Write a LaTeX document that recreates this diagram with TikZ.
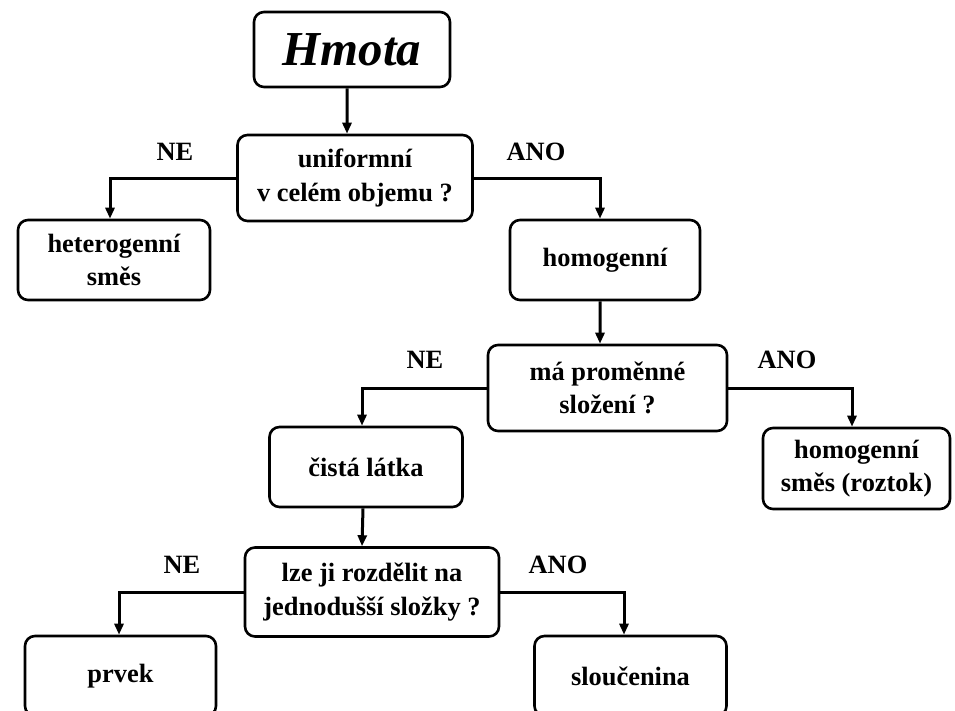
\documentclass[tikz,border=0pt]{standalone}
\usepackage{fontspec}
\setmainfont{Liberation Serif}
\usetikzlibrary{arrows.meta}
\begin{document}
\begin{tikzpicture}[x=1bp,y=-1bp,
  box/.style={draw, line width=2.6bp, rounded corners=10bp, align=center, inner sep=0pt,
    font=\fontsize{26.5}{33.5}\selectfont\bfseries},
  conn/.style={line width=3bp, -{Triangle[width=9bp,length=11bp]}},
  lbl/.style={font=\fontsize{26.5}{31}\selectfont\bfseries, inner sep=0pt}]
\useasboundingbox (0,0) rectangle (955,711);
\node[box, minimum width=196bp, minimum height=75bp] (hmota) at (352,49.5)
  {\fontsize{49}{50}\selectfont\bfseries\itshape Hmota};
\node[box, minimum width=235bp, minimum height=86bp] (unif) at (355,178)
  {uniformní\\v celém objemu ?};
\node[box, minimum width=192bp, minimum height=80bp] (het) at (114,260)
  {heterogenní\\směs};
\node[box, minimum width=190bp, minimum height=80bp] (hom) at (605,260) {homogenní};
\node[box, minimum width=239bp, minimum height=86bp] (ma) at (607.5,388)
  {má proměnné\\složení ?};
\node[box, minimum width=187bp, minimum height=81bp] (roz) at (856.5,468.5)
  {homogenní\\směs (roztok)};
\node[box, minimum width=193bp, minimum height=80bp] (cista) at (366,467) {čistá látka};
\node[box, minimum width=254bp, minimum height=89bp] (lze) at (372,592)
  {lze ji rozdělit na\\jednodušší složky ?};
\node[box, minimum width=191bp, minimum height=80bp] (prvek) at (120.5,676) {\raisebox{1.5bp}{prvek}};
\node[box, minimum width=192bp, minimum height=80bp] (slou) at (630.5,676) {sloučenina};

\draw[conn] ([xshift=-5bp]hmota.south) -- ([xshift=-8bp]unif.north);
\draw[conn] (unif.west) -| ([xshift=-4bp]het.north);
\draw[conn] (unif.east) -| ([xshift=-5bp]hom.north);
\draw[conn] ([xshift=-5bp]hom.south) -- ([xshift=-7.5bp]ma.north);
\draw[conn] (ma.west) -| ([xshift=-4bp]cista.north);
\draw[conn] (ma.east) -| ([xshift=-4.5bp]roz.north);
\draw[conn] ([xshift=-3bp]cista.south) -- ([xshift=-10bp]lze.north);
\draw[conn] (lze.west) -| ([xshift=-1.5bp]prvek.north);
\draw[conn] (lze.east) -| ([xshift=-6.5bp]slou.north);

\node[lbl] (ne1) at (175,152) {NE};
\node[lbl] (ano1) at (536,152) {ANO};
\node[lbl] (ne2) at (425,360) {NE};
\node[lbl] (ano2) at (787,360) {ANO};
\node[lbl] (ne3) at (182,565) {NE};
\node[lbl] (ano3) at (558,565) {ANO};
\end{tikzpicture}
\end{document}
